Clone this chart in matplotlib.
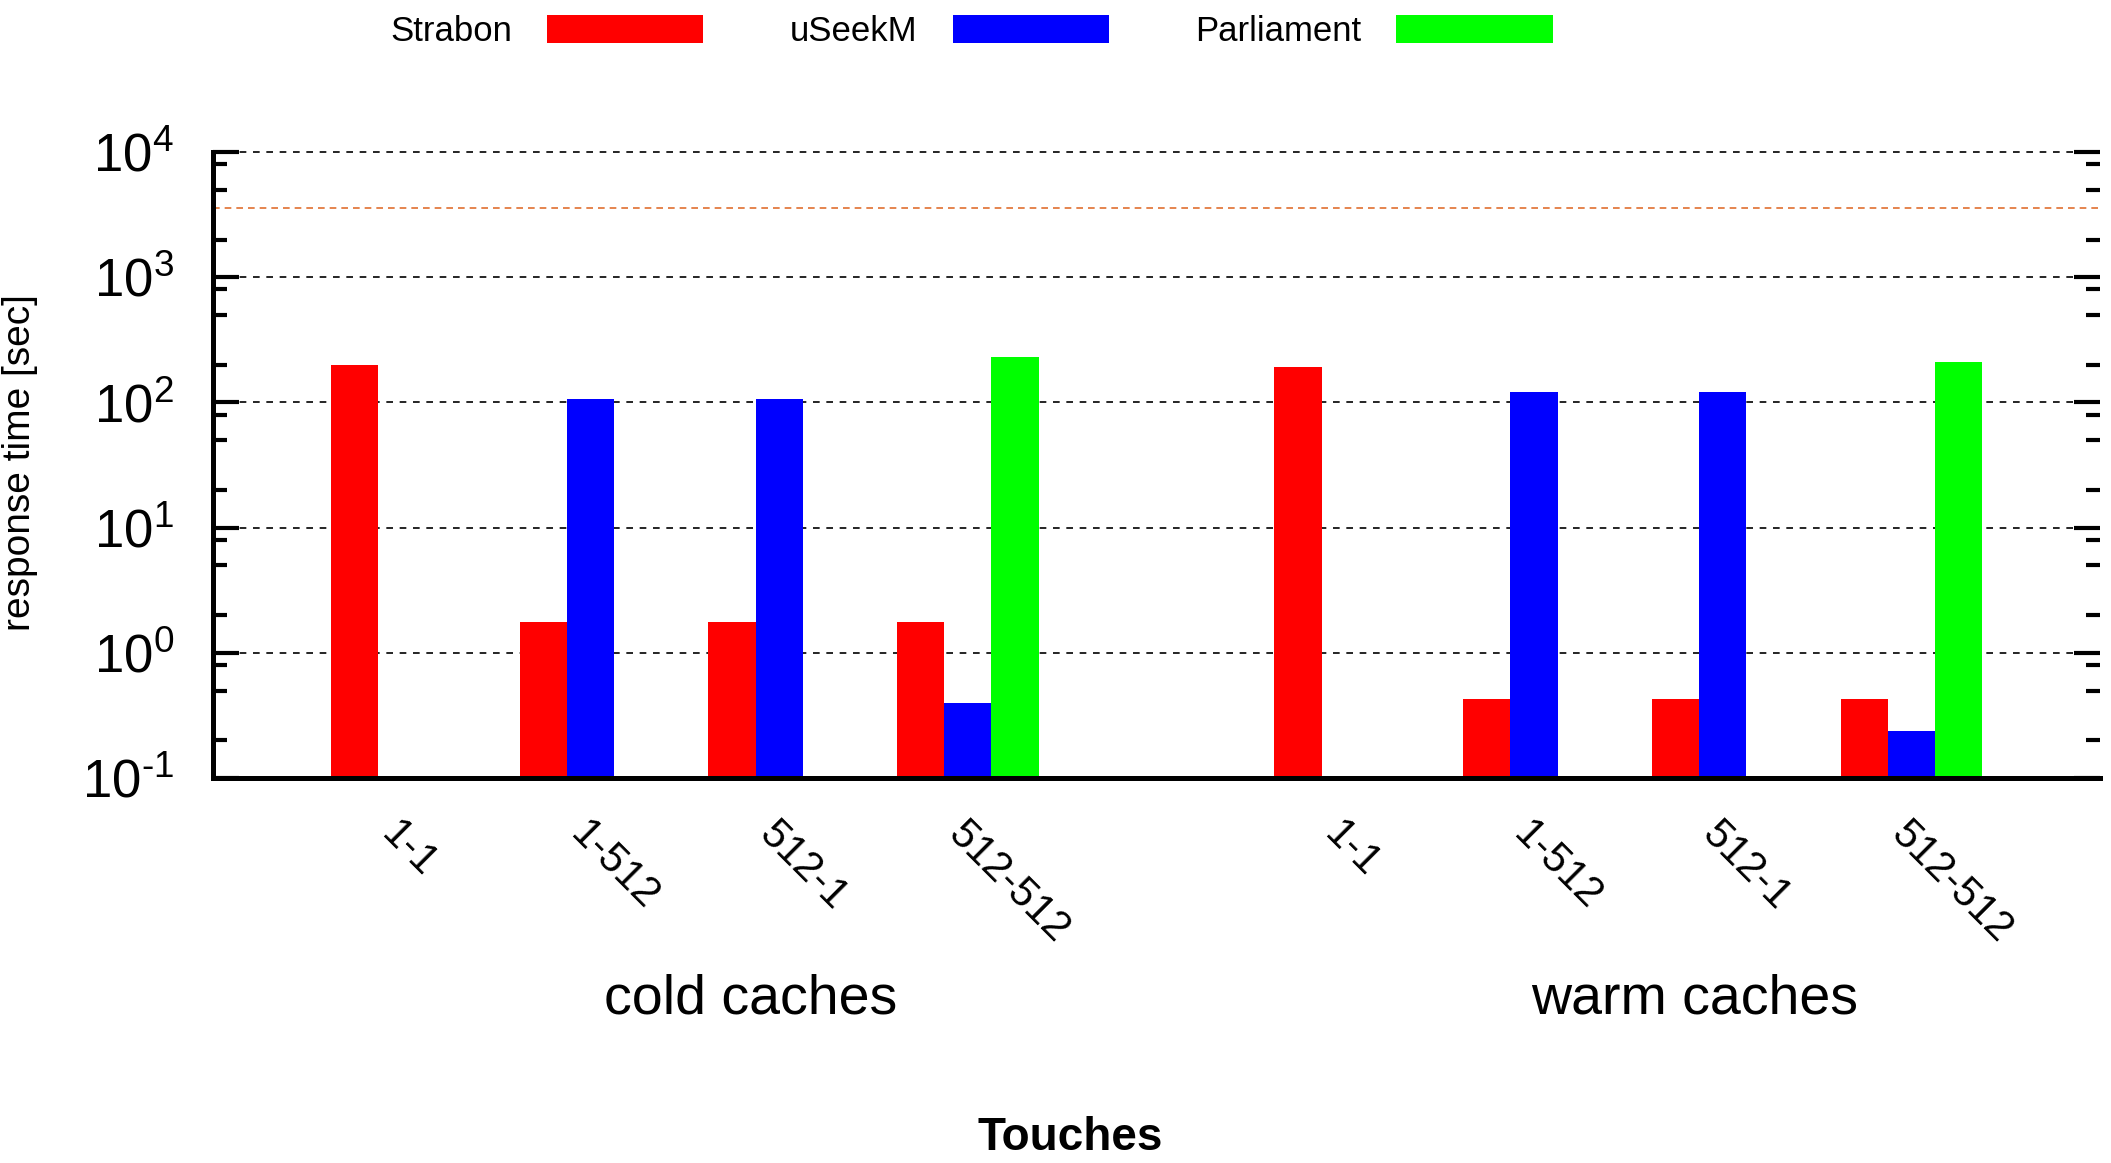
import numpy as np
import matplotlib
matplotlib.use("Agg")
import matplotlib.pyplot as plt
from matplotlib.ticker import LogLocator, NullFormatter, FuncFormatter
from matplotlib.transforms import blended_transform_factory

plt.rcParams["font.family"] = ["Liberation Sans", "DejaVu Sans"]
plt.rcParams["mathtext.fontset"] = "custom"
plt.rcParams["mathtext.rm"] = "Liberation Sans"
plt.rcParams["mathtext.it"] = "Liberation Sans:italic"
plt.rcParams["axes.unicode_minus"] = False

# ---------------------------------------------------------------------------
# Data (response time in seconds, NaN = not run)
# ---------------------------------------------------------------------------
queries = ["1-1", "1-512", "512-1", "512-512"]
groups = ["cold caches", "warm caches"]
systems = ["Strabon", "uSeekM", "Parliament"]
colors = ["#ff0000", "#0000ff", "#00ff00"]

cold_strabon = [198, 1.77, 1.77, 1.77]
cold_useekm = [np.nan, 106, 106, 0.40]
cold_parliament = [np.nan, np.nan, np.nan, 231]
warm_strabon = [193, 0.43, 0.43, 0.43]
warm_useekm = [np.nan, 121, 121, 0.238]
warm_parliament = [np.nan, np.nan, np.nan, 211]

timeout = 3600

series = [
    np.array(cold_strabon + [np.nan] + warm_strabon),
    np.array(cold_useekm + [np.nan] + warm_useekm),
    np.array(cold_parliament + [np.nan] + warm_parliament),
]


def pow10_label(v, pos):
    e = int(round(np.log10(v)))
    exp = r"\text{-}%d" % -e if e < 0 else "%d" % e
    return r"$10^{%s}$" % exp


# ---------------------------------------------------------------------------
# Plot
# ---------------------------------------------------------------------------
fig = plt.figure(figsize=(21.11, 11.63), dpi=100)
ax = fig.add_axes([0.1009, 0.331, 0.8939, 0.5383])

n_slots = len(series[0])          # 4 cold + 1 gap + 4 warm
slot = np.arange(n_slots) * 4     # 3 bars + 1 gap per cluster
for k, (vals, name, col) in enumerate(zip(series, systems, colors)):
    ok = ~np.isnan(vals)
    ax.bar(slot[ok] + k + 0.5, vals[ok], width=1.0, color=col,
           edgecolor="none", label=name)

ax.set_yscale("log")
ax.set_ylim(0.1, 1e4)
ax.set_xlim(-2.5, slot[-1] + 3 + 2.5)

ax.axhline(timeout, color="#e07030", lw=1.2, ls=(0, (4, 3)), zorder=0)
for d in range(0, 5):
    ax.axhline(10.0 ** d, color="black", lw=1.2, ls=(0, (4, 4)), zorder=0,
               clip_on=False)

ax.yaxis.set_major_locator(LogLocator(base=10, numticks=10))
ax.yaxis.set_major_formatter(FuncFormatter(pow10_label))
ax.yaxis.set_minor_locator(LogLocator(base=10, subs=[2, 5, 8], numticks=10))
ax.yaxis.set_minor_formatter(NullFormatter())
ax.tick_params(axis="y", which="major", direction="in", length=19, width=3,
               labelsize=38, pad=28, right=True)
ax.tick_params(axis="y", which="minor", direction="in", length=10, width=3,
               right=True)

tick_pos = np.concatenate([slot[:4], slot[5:]]) + 1.5
ax.set_xticks(tick_pos)
ax.set_xticklabels(queries + queries, rotation=-45, ha="left", va="top",
                   rotation_mode="anchor", fontsize=30)
ax.tick_params(axis="x", length=0, pad=26)

for s in ["top", "right"]:
    ax.spines[s].set_visible(False)
for s in ["left", "bottom"]:
    ax.spines[s].set_linewidth(3.6)

trans = blended_transform_factory(ax.transData, fig.transFigure)
ax.text(tick_pos[:4].mean() + 1.4, 1 - 1000 / 1163, groups[0], transform=trans,
        ha="center", va="center", fontsize=40)
ax.text(tick_pos[4:].mean() + 1.4, 1 - 1000 / 1163, groups[1], transform=trans,
        ha="center", va="center", fontsize=40)

fig.text(0.507, 0.003, "Touches", ha="center", va="bottom", fontsize=33,
         fontweight="bold")
fig.text(0.0095, 0.602, "response time [sec]", rotation=90, ha="center",
         va="center", fontsize=28)

fig.legend(loc="center left", bbox_to_anchor=(0.185, 0.973), ncol=3,
           frameon=False, markerfirst=False, fontsize=25, handlelength=4.5,
           handleheight=0.85, handletextpad=1.0, columnspacing=2.5,
           borderpad=0, borderaxespad=0)

fig.savefig("out.png", dpi=100)
